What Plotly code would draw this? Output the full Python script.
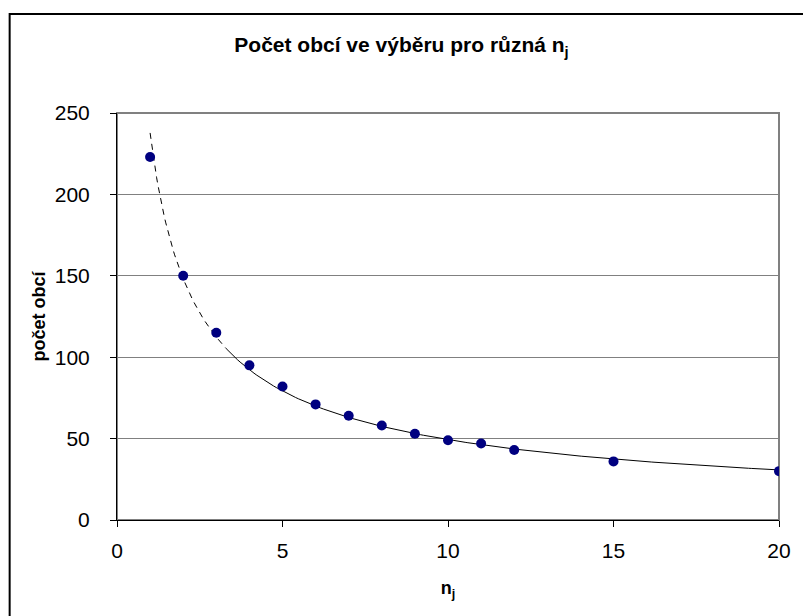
import numpy as np
import plotly.graph_objects as go

# Number of municipalities in the sample for each n_j
n_j = [1, 2, 3, 4, 5, 6, 7, 8, 9, 10, 11, 12, 15, 20]
pocet_obci = [223, 150, 115, 95, 82, 71, 64, 58, 53, 49, 47, 43, 36, 30]

y_ticks = [0, 50, 100, 150, 200, 250]
x_ticks = [0, 5, 10, 15, 20]

# Power trend line y = a * x^b fitted in log-log space
b, ln_a = np.polyfit(np.log(n_j), np.log(pocet_obci), 1)
a = np.exp(ln_a)
x_dash = np.linspace(1, 3.3, 60)
x_solid = np.linspace(3.3, 20, 200)

fig = go.Figure()
fig.add_trace(go.Scatter(x=x_dash, y=a * x_dash ** b, mode="lines",
                         line=dict(color="black", width=1, dash="6px,5px"),
                         hoverinfo="skip"))
fig.add_trace(go.Scatter(x=x_solid, y=a * x_solid ** b, mode="lines",
                         line=dict(color="black", width=1), hoverinfo="skip"))
fig.add_trace(go.Scatter(x=n_j, y=pocet_obci, mode="markers",
                         marker=dict(color="#000080", size=10)))

font = "Liberation Sans, Arial, sans-serif"
fig.update_layout(
    width=803, height=616,
    margin=dict(l=117, r=20, t=113, b=96),
    paper_bgcolor="white", plot_bgcolor="white",
    showlegend=False,
    font=dict(family=font, color="black"),
    title=dict(text="<b>Počet obcí ve výběru pro různá n<sub>j</sub></b>",
               x=0.5, xanchor="center", y=1 - 45 / 616, yanchor="middle",
               font=dict(size=21, family=font)),
    shapes=[
        # plot area frame
        dict(type="rect", xref="paper", yref="paper", x0=0, x1=1, y0=0, y1=1,
             line=dict(color="#808080", width=2), layer="below"),
        # outer chart frame
        dict(type="rect", xref="paper", yref="paper",
             x0=(9 - 117) / 666, x1=(830 - 117) / 666,
             y0=(520 - 640) / 407, y1=(520 - 14) / 407,
             line=dict(color="black", width=2)),
    ],
)
fig.update_xaxes(
    range=[0, 20], tickvals=x_ticks, showgrid=False, zeroline=False,
    showline=True, linecolor="black", linewidth=1,
    ticks="outside", ticklen=6, tickcolor="black", ticklabelstandoff=6,
    tickfont=dict(size=21, family=font),
    title=dict(text="<b>n<sub>j</sub></b>", font=dict(size=18, family=font), standoff=20),
)
fig.update_yaxes(
    range=[0, 250], tickvals=y_ticks, showgrid=True, gridcolor="#808080", gridwidth=1,
    zeroline=False, showline=True, linecolor="black", linewidth=1,
    ticks="outside", ticklen=6, tickcolor="black", ticklabelstandoff=16,
    tickfont=dict(size=21, family=font),
    title=dict(text="<b>počet obcí</b>", font=dict(size=18, family=font), standoff=4),
)

fig.write_html("out.html")
